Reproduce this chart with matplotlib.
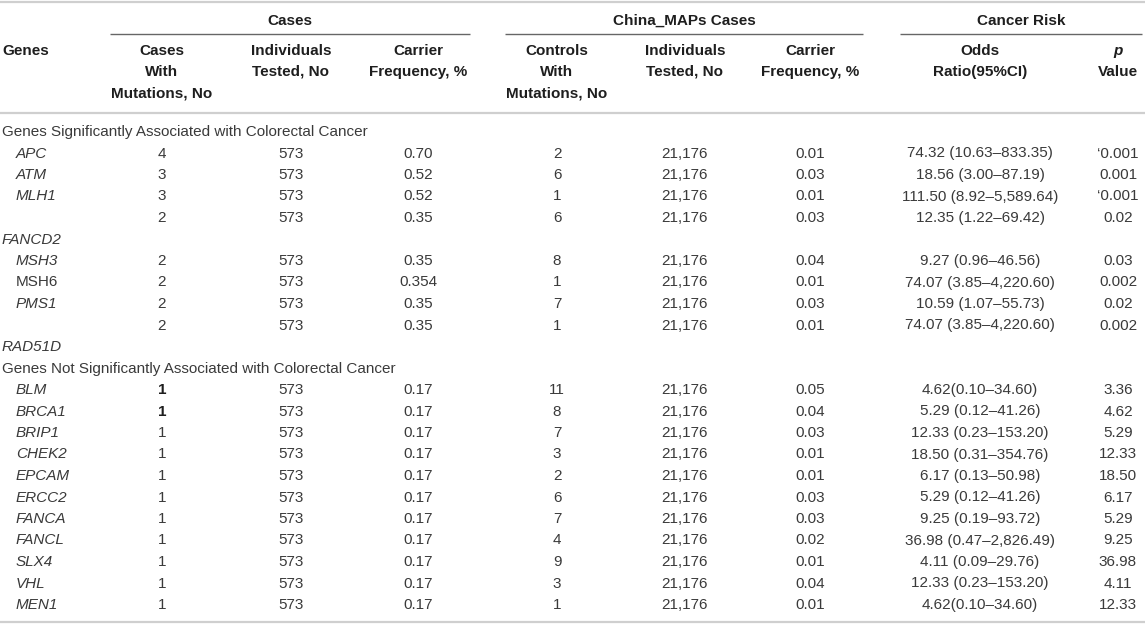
import matplotlib
matplotlib.use("Agg")
import matplotlib.pyplot as plt

# ---------------- data ----------------
genes = ["APC", "ATM", "MLH1", "", "FANCD2", "MSH3", "MSH6", "PMS1", "", "RAD51D",
         "BLM", "BRCA1", "BRIP1", "CHEK2", "EPCAM", "ERCC2", "FANCA", "FANCL", "SLX4", "VHL", "MEN1"]
cases_mut = ["4", "3", "3", "2", "", "2", "2", "2", "2", "",
             "1", "1", "1", "1", "1", "1", "1", "1", "1", "1", "1"]
cases_tested = ["573", "573", "573", "573", "", "573", "573", "573", "573", "",
                "573", "573", "573", "573", "573", "573", "573", "573", "573", "573", "573"]
cases_freq = ["0.70", "0.52", "0.52", "0.35", "", "0.35", "0.354", "0.35", "0.35", "",
              "0.17", "0.17", "0.17", "0.17", "0.17", "0.17", "0.17", "0.17", "0.17", "0.17", "0.17"]
ctrl_mut = ["2", "6", "1", "6", "", "8", "1", "7", "1", "",
            "11", "8", "7", "3", "2", "6", "7", "4", "9", "3", "1"]
ctrl_tested = ["21,176", "21,176", "21,176", "21,176", "", "21,176", "21,176", "21,176", "21,176", "",
               "21,176", "21,176", "21,176", "21,176", "21,176", "21,176", "21,176", "21,176",
               "21,176", "21,176", "21,176"]
ctrl_freq = ["0.01", "0.03", "0.01", "0.03", "", "0.04", "0.01", "0.03", "0.01", "",
             "0.05", "0.04", "0.03", "0.01", "0.01", "0.03", "0.03", "0.02", "0.01", "0.04", "0.01"]
odds_ratio = ["74.32 (10.63–833.35)", "18.56 (3.00–87.19)", "111.50 (8.92–5,589.64)",
              "12.35 (1.22–69.42)", "", "9.27 (0.96–46.56)", "74.07 (3.85–4,220.60)",
              "10.59 (1.07–55.73)", "74.07 (3.85–4,220.60)", "",
              "4.62(0.10–34.60)", "5.29 (0.12–41.26)", "12.33 (0.23–153.20)",
              "18.50 (0.31–354.76)", "6.17 (0.13–50.98)", "5.29 (0.12–41.26)",
              "9.25 (0.19–93.72)", "36.98 (0.47–2,826.49)", "4.11 (0.09–29.76)",
              "12.33 (0.23–153.20)", "4.62(0.10–34.60)"]
p_value = ["‘0.001", "0.001", "‘0.001", "0.02", "", "0.03", "0.002", "0.02", "0.002", "",
           "3.36", "4.62", "5.29", "12.33", "18.50", "6.17", "5.29", "9.25", "36.98", "4.11", "12.33"]
sections = ["Genes Significantly Associated with Colorectal Cancer",
            "Genes Not Significantly Associated with Colorectal Cancer"]
section_sizes = [10, 11]          # rows belonging to each section
unindented = {"FANCD2", "RAD51D"}
upright = {"MSH6"}
bold_cases = {"BLM", "BRCA1"}

group_titles = ["Cases", "China_MAPs Cases", "Cancer Risk"]
col_headers = [["Cases", "With", "Mutations, No"], ["Individuals", "Tested, No"],
               ["Carrier", "Frequency, %"], ["Controls", "With", "Mutations, No"],
               ["Individuals", "Tested, No"], ["Carrier", "Frequency, %"],
               ["Odds", "Ratio(95%CI)"], ["p", "Value"]]

# ---------------- layout ----------------
W, H = 1145, 624
fig = plt.figure(figsize=(W / 100, H / 100), dpi=100)
ax = fig.add_axes([0, 0, 1, 1])
ax.set_xlim(0, W)
ax.set_ylim(H, 0)
ax.axis("off")

FONT = "Liberation Sans"
FS = 11
DATA_C = "#3a3a3a"
HEAD_C = "#1e1e1e"
LIGHT = "#cfcfcf"

col_x = [162, 291, 418, 557, 685, 810, 980, 1118]
group_spans = [(110, 470), (505, 863), (900, 1142)]

# rules
ax.plot([0, W], [2, 2], color=LIGHT, lw=1.6, solid_capstyle="butt")
ax.plot([0, W], [113, 113], color=LIGHT, lw=1.6, solid_capstyle="butt")
ax.plot([0, W], [622, 622], color=LIGHT, lw=1.6, solid_capstyle="butt")
for (x0, x1), t in zip(group_spans, group_titles):
    ax.plot([x0, x1], [34, 34], color="#666666", lw=1.0, solid_capstyle="butt")
    ax.text((x0 + x1) / 2, 21, t, ha="center", va="center", fontsize=FS,
            fontweight="bold", color=HEAD_C, family=FONT)

# column headers
head_y = [51, 72, 93]
ax.text(2, head_y[0], "Genes", ha="left", va="center", fontsize=FS,
        fontweight="bold", color=HEAD_C, family=FONT)
for cx, lines in zip(col_x, col_headers):
    for i, ln in enumerate(lines):
        style = "italic" if ln == "p" else "normal"
        ax.text(cx, head_y[i], ln, ha="center", va="center", fontsize=FS,
                fontweight="bold", fontstyle=style, color=HEAD_C, family=FONT)

# body
y0, step = 132, 21.5
row = 0
gi = 0
columns = [cases_mut, cases_tested, cases_freq, ctrl_mut, ctrl_tested, ctrl_freq,
           odds_ratio, p_value]
for sec, n in zip(sections, section_sizes):
    y = y0 + row * step
    ax.text(2, y, sec, ha="left", va="center", fontsize=FS, color=DATA_C, family=FONT)
    row += 1
    for _ in range(n):
        y = y0 + row * step
        g = genes[gi]
        if g:
            gx = 2 if g in unindented else 16
            st = "normal" if g in upright else "italic"
            ax.text(gx, y, g, ha="left", va="center", fontsize=FS, fontstyle=st,
                    color=DATA_C, family=FONT)
        for ci, (cx, col) in enumerate(zip(col_x, columns)):
            v = col[gi]
            if not v:
                continue
            fw = "bold" if (ci == 0 and g in bold_cases) else "normal"
            c = HEAD_C if fw == "bold" else DATA_C
            ax.text(cx, y, v, ha="center", va="center", fontsize=FS, fontweight=fw,
                    color=c, family=FONT)
        gi += 1
        row += 1

fig.savefig("out.png", dpi=100)
